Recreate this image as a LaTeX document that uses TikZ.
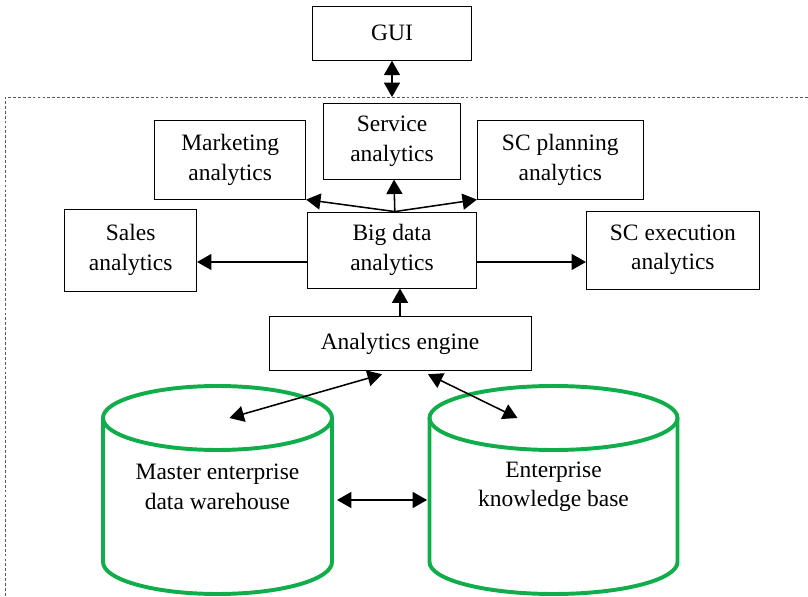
\documentclass[tikz,border=0pt]{standalone}
\usepackage{fontspec}
\setmainfont{Liberation Serif}
\usetikzlibrary{positioning, calc, arrows.meta}
\definecolor{dbgreen}{RGB}{16,174,74}
\tikzset{
every node/.style = {font = \fontsize{16.7}{21}\selectfont},
box/.style = {rectangle, draw, line width = 0.6pt, inner sep = 2pt, align = center},
arrow/.style = {-{Triangle[length = 3.6mm, width = 4mm]}, line width = 1.1pt},
biarrow/.style = {{Triangle[length = 3.6mm, width = 4mm]}-{Triangle[length = 3.6mm, width = 4mm]},
   line width = 1.1pt},
frame/.style = {gray!70!black, line width = 0.4pt, dash pattern = on 2pt off 1.5pt},
dbase/.style = {draw = dbgreen, line width = 2.8pt},
dbtext/.style = {align = center, inner sep = 0pt}
}

\begin{document}
\begin{tikzpicture}

\useasboundingbox (-9.8,-8.675) rectangle (10.4,6.25);

%% Analytics boxes
\node [box, minimum width = 4.225cm, minimum height = 1.9cm] (bd) at (0,0) {Big data\\analytics};
\node [box, minimum width = 3.3cm, minimum height = 2.05cm] (sales) [left = 2.75cm of bd]
   {Sales\\analytics};
\node [box, minimum width = 4.325cm, minimum height = 1.95cm] (scexec) [right = 2.725cm of bd]
   {SC execution\\analytics};
\node [box, minimum width = 3.425cm, minimum height = 1.9cm] (service) [above = 0.8cm of bd]
   {Service\\analytics};
\node [box, minimum width = 3.775cm, minimum height = 1.975cm] (marketing)
   [above left = 0.3cm and 0.025cm of bd.north west] {Marketing\\analytics};
\node [box, minimum width = 4.15cm, minimum height = 1.975cm] (scplan)
   [above right = 0.3cm and 0cm of bd.north east] {SC planning\\analytics};

%% GUI and engine
\node [box, minimum width = 3.975cm, minimum height = 1.35cm] (gui) [above = 1.05cm of service] {GUI};
\node [box, minimum width = 6.55cm, minimum height = 1.35cm] (engine) [below = 0.7cm of bd, xshift = 0.2cm]
   {Analytics engine};

%% Frame
\coordinate (frame) at (-9.675,3.825);
\draw [frame] (frame -| 10.4,0) -- (frame) -- (frame |- 0,-8.675);

%% Data stores
\coordinate (mdwtop) at (-4.3625,-4.2);
\coordinate (ekbtop) at (4.0375,-4.2);
\draw [dbase] (mdwtop) ellipse [x radius = 2.8625cm, y radius = 0.8cm];
\draw [dbase] ([xshift = -2.8625cm]mdwtop) -- ++(0,-3.6)
   arc [start angle = 180, end angle = 360, x radius = 2.8625cm, y radius = 0.8cm] -- ++(0,3.6);
\draw [dbase] (ekbtop) ellipse [x radius = 3.1cm, y radius = 0.8cm];
\draw [dbase] ([xshift = -3.1cm]ekbtop) -- ++(0,-3.6)
   arc [start angle = 180, end angle = 360, x radius = 3.1cm, y radius = 0.8cm] -- ++(0,3.6);
\node [dbtext] (mdw) at ($(mdwtop)+(0,-1.725)$) {Master enterprise\\data warehouse};
\node [dbtext] (ekb) at ($(ekbtop)+(0,-1.725)$) {Enterprise\\knowledge base};
\coordinate (mdwright) at ($(mdwtop)+(2.8625,-2.05)$);
\coordinate (ekbleft) at ($(ekbtop)+(-3.1,-2.05)$);

%% Connectors
\draw [biarrow] (gui.south) -- (gui.south |- frame);
\draw [arrow] ([yshift = -0.3cm]bd.west) -- ([yshift = -0.3cm]bd.west -| sales.east);
\draw [arrow] ([yshift = -0.3cm]bd.east) -- ([yshift = -0.3cm]bd.east -| scexec.west);
\draw [arrow] ([xshift = 0.07cm]bd.north) -- (marketing.south east);
\draw [arrow] ([xshift = 0.07cm]bd.north) -- ([xshift = 0.05cm]service.south);
\draw [arrow] ([xshift = 0.07cm]bd.north) -- (scplan.south west);
\draw [arrow] (engine.north) -- (engine.north |- bd.south);
\draw [biarrow] ([xshift = -0.45cm, yshift = -0.075cm]engine.south) -- ([xshift = 0.3cm]mdwtop);
\draw [biarrow] ([xshift = 0.7cm, yshift = -0.075cm]engine.south) -- ([xshift = -0.9cm]ekbtop);
\draw [biarrow, shorten < = 0.125cm, shorten > = 0.06cm] (mdwright) -- (ekbleft);

\end{tikzpicture}
\end{document}
